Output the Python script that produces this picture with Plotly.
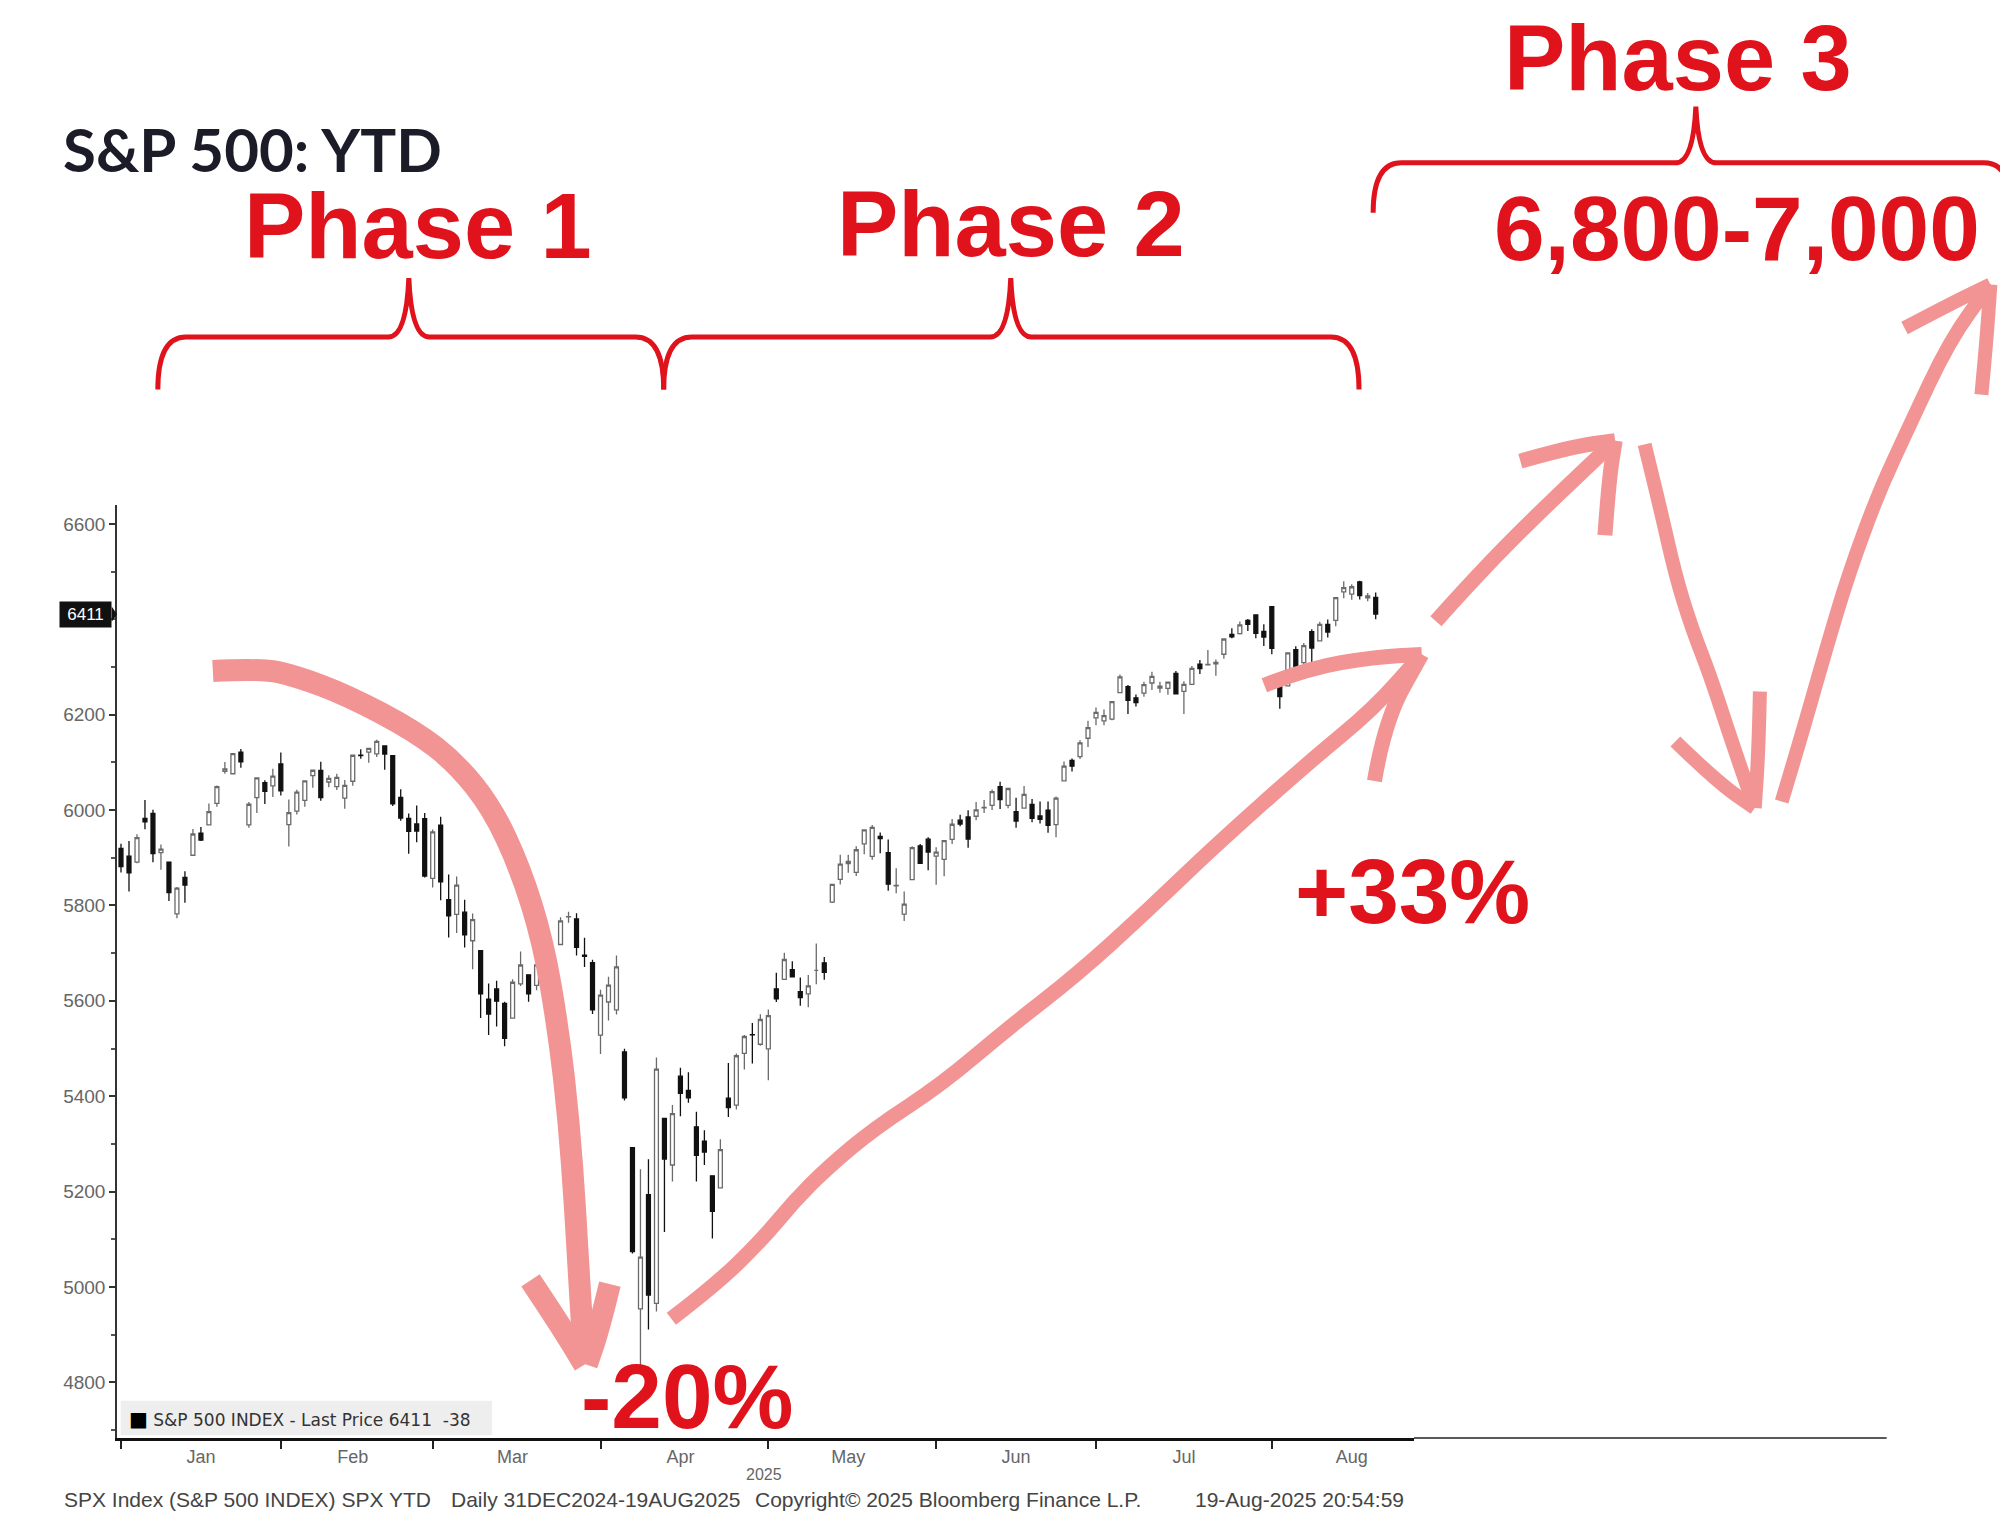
import plotly.graph_objects as go

# S&P 500 daily candles, 31 Dec 2024 - 19 Aug 2025
dates = ["2024-12-31",
         "2025-01-02", "2025-01-03", "2025-01-06", "2025-01-07", "2025-01-08", "2025-01-10", "2025-01-13",
         "2025-01-14", "2025-01-15", "2025-01-16", "2025-01-17", "2025-01-21", "2025-01-22", "2025-01-23",
         "2025-01-24", "2025-01-27", "2025-01-28", "2025-01-29", "2025-01-30", "2025-01-31",
         "2025-02-03", "2025-02-04", "2025-02-05", "2025-02-06", "2025-02-07", "2025-02-10", "2025-02-11",
         "2025-02-12", "2025-02-13", "2025-02-14", "2025-02-18", "2025-02-19", "2025-02-20", "2025-02-21",
         "2025-02-24", "2025-02-25", "2025-02-26", "2025-02-27", "2025-02-28",
         "2025-03-03", "2025-03-04", "2025-03-05", "2025-03-06", "2025-03-07", "2025-03-10", "2025-03-11",
         "2025-03-12", "2025-03-13", "2025-03-14", "2025-03-17", "2025-03-18", "2025-03-19", "2025-03-20",
         "2025-03-21", "2025-03-24", "2025-03-25", "2025-03-26", "2025-03-27", "2025-03-28", "2025-03-31",
         "2025-04-01", "2025-04-02", "2025-04-03", "2025-04-04", "2025-04-07", "2025-04-08", "2025-04-09",
         "2025-04-10", "2025-04-11", "2025-04-14", "2025-04-15", "2025-04-16", "2025-04-17", "2025-04-21",
         "2025-04-22", "2025-04-23", "2025-04-24", "2025-04-25", "2025-04-28", "2025-04-29", "2025-04-30",
         "2025-05-01", "2025-05-02", "2025-05-05", "2025-05-06", "2025-05-07", "2025-05-08", "2025-05-09",
         "2025-05-12", "2025-05-13", "2025-05-14", "2025-05-15", "2025-05-16", "2025-05-19", "2025-05-20",
         "2025-05-21", "2025-05-22", "2025-05-23", "2025-05-27", "2025-05-28", "2025-05-29", "2025-05-30",
         "2025-06-02", "2025-06-03", "2025-06-04", "2025-06-05", "2025-06-06", "2025-06-09", "2025-06-10",
         "2025-06-11", "2025-06-12", "2025-06-13", "2025-06-16", "2025-06-17", "2025-06-18", "2025-06-20",
         "2025-06-23", "2025-06-24", "2025-06-25", "2025-06-26", "2025-06-27", "2025-06-30",
         "2025-07-01", "2025-07-02", "2025-07-03", "2025-07-07", "2025-07-08", "2025-07-09", "2025-07-10",
         "2025-07-11", "2025-07-14", "2025-07-15", "2025-07-16", "2025-07-17", "2025-07-18", "2025-07-21",
         "2025-07-22", "2025-07-23", "2025-07-24", "2025-07-25", "2025-07-28", "2025-07-29", "2025-07-30",
         "2025-07-31",
         "2025-08-01", "2025-08-04", "2025-08-05", "2025-08-06", "2025-08-07", "2025-08-08", "2025-08-11",
         "2025-08-12", "2025-08-13", "2025-08-14", "2025-08-15", "2025-08-18", "2025-08-19"]

opens = [5919.7,
         5903.3, 5891.1, 5982.8, 5993.3, 5910.7, 5890.7, 5782.2, 5859.0, 5905.3, 5951.5, 5969.1, 6014.1, 6081.4, 6076.3,
         6121.4, 5969.0, 6026.0, 6057.7, 6050.8, 6096.8,
         5969.7, 5998.1, 6020.5, 6072.2, 6083.1, 6059.0, 6049.3, 6025.1, 6060.6, 6115.5, 6121.6, 6117.8, 6134.5, 6114.1,
         6026.7, 5982.7, 5970.9, 5981.9, 5856.7,
         5968.3, 5812.0, 5781.4, 5785.9, 5726.0, 5705.4, 5603.7, 5624.8, 5594.5, 5563.9, 5635.6, 5654.5, 5632.4, 5646.9,
         5630.7, 5718.1, 5775.9, 5771.7, 5695.6, 5679.9, 5527.9,
         5597.5, 5580.8, 5492.7, 5292.1, 4953.8, 5193.6, 4965.3, 5353.2, 5255.6, 5442.0, 5412.0, 5335.8, 5305.4, 5232.9,
         5207.7, 5395.9, 5381.4, 5489.7, 5529.2, 5508.9, 5499.4,
         5625.1, 5645.0, 5665.2, 5619.0, 5614.4, 5663.9, 5679.7, 5807.1, 5854.6, 5887.6, 5869.5, 5929.1, 5902.9, 5944.7,
         5910.9, 5841.3, 5781.9, 5854.1, 5925.0, 5939.1, 5903.7,
         5896.7, 5938.6, 5978.9, 5985.7, 5987.1, 6004.6, 6009.9, 6049.4, 6009.9, 5996.7, 6004.0, 6012.2, 5987.9, 5999.7,
         5969.7, 6061.2, 6104.2, 6112.1, 6150.7, 6193.4,
         6187.3, 6191.0, 6246.5, 6259.2, 6235.5, 6245.3, 6266.6, 6255.7, 6255.2, 6287.0, 6248.9, 6263.6, 6306.4, 6304.7,
         6306.6, 6326.9, 6368.6, 6370.0, 6397.7, 6409.3, 6374.9, 6427.0,
         6271.7, 6260.8, 6336.6, 6309.3, 6374.5, 6355.0, 6389.7, 6397.9, 6457.7, 6453.0, 6478.9, 6445.0, 6446.3]

highs = [5929.7,
         5935.1, 5949.3, 6021.0, 6000.7, 5927.9, 5890.7, 5838.6, 5871.9, 5960.6, 5964.7, 6014.0, 6051.5, 6100.8, 6118.7,
         6128.2, 6017.2, 6069.1, 6062.8, 6086.6, 6120.9,
         6022.1, 6042.5, 6062.9, 6084.0, 6101.3, 6073.4, 6076.3, 6063.0, 6116.9, 6127.5, 6129.6, 6147.4, 6134.5, 6114.8,
         6043.7, 5992.7, 6009.8, 5993.7, 5959.4,
         5986.1, 5865.1, 5860.6, 5812.1, 5783.0, 5705.4, 5636.3, 5642.2, 5597.8, 5645.3, 5703.5, 5654.5, 5715.3, 5711.2,
         5670.8, 5775.1, 5787.0, 5783.6, 5732.3, 5685.9, 5623.0,
         5650.6, 5695.3, 5499.5, 5292.1, 5246.6, 5267.5, 5481.3, 5353.2, 5381.5, 5459.5, 5450.4, 5367.2, 5328.3, 5232.9,
         5309.6, 5469.7, 5489.4, 5528.1, 5553.7, 5572.0, 5581.8,
         5658.9, 5700.7, 5683.2, 5649.0, 5654.4, 5720.1, 5691.7, 5845.0, 5906.6, 5906.6, 5924.2, 5958.6, 5968.6, 5953.1,
         5938.4, 5878.1, 5829.5, 5924.3, 5929.1, 5943.1, 5922.1,
         5937.4, 5981.4, 5990.5, 5999.7, 6016.9, 6021.3, 6043.0, 6059.4, 6045.4, 6026.2, 6050.8, 6023.3, 6018.2, 6018.2,
         6028.8, 6101.8, 6108.5, 6146.5, 6187.7, 6215.1,
         6210.8, 6227.6, 6284.7, 6262.6, 6242.7, 6269.0, 6290.2, 6269.3, 6269.4, 6291.7, 6270.1, 6302.3, 6315.1, 6336.1,
         6316.1, 6360.6, 6381.3, 6395.8, 6401.1, 6409.3, 6389.8, 6427.0,
         6288.1, 6330.0, 6343.7, 6350.5, 6379.5, 6395.2, 6400.0, 6446.2, 6480.3, 6473.8, 6481.3, 6455.4, 6456.7]

lows = [5868.9,
        5829.5, 5888.7, 5960.0, 5890.7, 5874.8, 5809.5, 5773.3, 5805.5, 5905.3, 5935.4, 5969.1, 6006.9, 6076.1, 6074.7,
        6088.7, 5962.9, 5994.1, 6012.9, 6027.5, 6030.9,
        5923.9, 5990.9, 6007.1, 6046.8, 6019.9, 6048.0, 6042.3, 6003.0, 6051.0, 6107.6, 6099.5, 6111.2, 6084.6, 6008.6,
        5977.8, 5908.5, 5932.7, 5858.8, 5837.7,
        5810.9, 5732.6, 5742.4, 5711.6, 5666.3, 5564.0, 5528.4, 5546.1, 5504.6, 5563.9, 5631.1, 5597.8, 5622.2, 5632.4,
        5603.1, 5718.1, 5764.0, 5695.0, 5670.9, 5572.4, 5488.7,
        5558.5, 5571.5, 5390.8, 5069.9, 4835.0, 4910.4, 4948.4, 5115.3, 5220.8, 5358.0, 5386.4, 5220.8, 5255.6, 5101.6,
        5207.7, 5356.2, 5372.0, 5455.9, 5468.6, 5505.7, 5433.2,
        5597.4, 5644.7, 5649.6, 5589.9, 5586.4, 5635.0, 5644.4, 5805.3, 5844.2, 5868.7, 5861.9, 5907.4, 5895.7, 5909.3,
        5830.9, 5825.8, 5767.4, 5854.1, 5886.8, 5873.8, 5843.7,
        5861.4, 5929.0, 5966.1, 5921.2, 5978.6, 5994.2, 6000.3, 6002.3, 6003.9, 5963.2, 6004.0, 5974.8, 5971.9, 5952.6,
        5943.2, 6060.1, 6080.9, 6107.4, 6132.4, 6178.0,
        6178.0, 6188.3, 6246.5, 6201.7, 6217.2, 6237.6, 6251.8, 6246.4, 6242.0, 6243.2, 6201.6, 6263.6, 6285.3, 6303.8,
        6281.7, 6317.5, 6360.6, 6368.5, 6375.9, 6360.4, 6344.3, 6327.0,
        6212.7, 6260.8, 6282.0, 6301.9, 6300.6, 6355.0, 6362.0, 6385.8, 6444.4, 6441.1, 6441.7, 6437.9, 6400.2]

closes = [5881.6,
          5868.6, 5942.5, 5975.4, 5909.0, 5918.3, 5827.0, 5836.2, 5842.9, 5949.9, 5937.3, 5996.7, 6049.2, 6086.4, 6118.7,
          6101.2, 6012.3, 6067.7, 6039.3, 6071.2, 6040.5,
          5994.6, 6037.9, 6061.5, 6083.6, 6026.0, 6066.4, 6068.5, 6052.0, 6115.1, 6114.6, 6129.6, 6144.2, 6117.5, 6013.1,
          5983.3, 5955.3, 5956.1, 5861.6, 5954.5,
          5849.7, 5778.2, 5842.6, 5738.5, 5770.2, 5614.6, 5572.1, 5599.3, 5521.5, 5638.9, 5675.1, 5614.7, 5675.3, 5662.9,
          5667.6, 5767.6, 5776.7, 5712.2, 5693.3, 5580.9, 5611.9,
          5633.1, 5671.0, 5396.5, 5074.1, 5062.3, 4982.8, 5456.9, 5268.1, 5363.4, 5406.0, 5396.6, 5275.7, 5282.7, 5158.2,
          5287.8, 5375.9, 5484.8, 5525.2, 5528.8, 5560.8, 5569.1,
          5604.1, 5686.7, 5650.4, 5606.9, 5631.3, 5663.9, 5659.9, 5844.2, 5886.6, 5892.6, 5916.9, 5958.4, 5963.6, 5940.5,
          5844.6, 5842.0, 5802.8, 5921.5, 5888.6, 5912.2, 5911.7,
          5935.9, 5970.4, 5970.8, 5939.3, 6000.4, 6005.9, 6038.8, 6022.2, 6045.3, 5977.0, 6033.1, 5982.7, 5980.9, 5967.8,
          6025.2, 6092.2, 6092.2, 6141.0, 6173.1, 6205.0,
          6198.0, 6227.4, 6279.4, 6230.0, 6225.5, 6263.3, 6280.5, 6259.8, 6268.6, 6243.8, 6263.7, 6297.4, 6296.8, 6305.6,
          6309.6, 6358.9, 6363.4, 6388.6, 6389.8, 6370.9, 6362.9, 6339.4,
          6238.0, 6329.9, 6299.2, 6345.1, 6340.0, 6389.5, 6373.5, 6445.8, 6466.6, 6468.5, 6449.8, 6449.2, 6411.4]

holidays = ["2025-01-01", "2025-01-09", "2025-01-20", "2025-02-17", "2025-04-18",
            "2025-05-26", "2025-06-19", "2025-07-04"]

month_names = ["Jan", "Feb", "Mar", "Apr", "May", "Jun", "Jul", "Aug"]
month_label_days = ["2025-01-16", "2025-02-13", "2025-03-14", "2025-04-14", "2025-05-14",
                    "2025-06-13", "2025-07-16", "2025-08-14"]
month_end_days = ["2024-12-31", "2025-01-31", "2025-02-28", "2025-03-31", "2025-04-30",
                  "2025-05-30", "2025-06-30", "2025-07-31"]
y_ticks = [4800, 5000, 5200, 5400, 5600, 5800, 6000, 6200, 6600]

last_price = 6411
last_change = -38

W, H = 2008, 1536
ML, MR, MT, MB = 109, 602, 497, 106
SX, SY = W / 1568, H / 1200   # positions below measured on a 1568x1200 view

RED = "#E0121B"
PINK = "#F29494"
ARIAL = "Liberation Sans, Arial, sans-serif"
WIDE = "DejaVu Sans, Verdana, sans-serif"


def pp(xd, yd):
    X, Y = xd * SX, yd * SY
    return (X - ML) / (W - ML - MR), (H - MB - Y) / (H - MT - MB)


def smooth(pts):
    p = [pp(*q) for q in pts]
    s = "M %.4f,%.4f" % p[0]
    for i in range(1, len(p) - 1):
        mx = (p[i][0] + p[i + 1][0]) / 2
        my = (p[i][1] + p[i + 1][1]) / 2
        s += " Q %.4f,%.4f %.4f,%.4f" % (p[i][0], p[i][1], mx, my)
    s += " L %.4f,%.4f" % p[-1]
    return s


def brace(x0, x1, xm, ytop, yend, ypeak):
    pts = [(x0, yend), (x0, ytop), (x0 + 22, ytop), (xm - 16, ytop), (xm - 2, ytop), (xm, ypeak),
           (xm + 2, ytop), (xm + 16, ytop), (x1 - 22, ytop), (x1, ytop), (x1, yend)]
    p = [pp(*q) for q in pts]
    f = lambda q: "%.4f,%.4f" % q
    return ("M " + f(p[0]) + " Q " + f(p[1]) + " " + f(p[2]) + " L " + f(p[3]) +
            " Q " + f(p[4]) + " " + f(p[5]) + " Q " + f(p[6]) + " " + f(p[7]) +
            " L " + f(p[8]) + " Q " + f(p[9]) + " " + f(p[10]))


noon = lambda ds: [d + " 12:00" for d in ds]

fig = go.Figure()
fig.add_trace(go.Candlestick(
    x=noon(dates), open=opens, high=highs, low=lows, close=closes,
    increasing=dict(line=dict(color="#6a6a6a", width=1.3), fillcolor="#ffffff"),
    decreasing=dict(line=dict(color="#111111", width=1.3), fillcolor="#111111"),
    whiskerwidth=0, showlegend=False, hoverinfo="skip"))

shapes = []
# braces
for x0, x1, xm, ytop, yend, ypk in [(117, 512, 313, 257, 298, 211), (512, 1055, 783, 257, 298, 211),
                                    (1066, 1565, 1318, 121, 160, 77)]:
    shapes.append(dict(type="path", xref="paper", yref="paper", path=brace(x0, x1, xm, ytop, yend, ypk),
                       line=dict(color=RED, width=5), layer="above"))

# hand-drawn arrows
strokes = [
    (22, [(160, 518), (198, 516), (225, 522), (265, 537), (318, 565), (350, 590), (378, 625), (400, 672),
          (418, 730), (430, 800), (438, 870), (443, 940), (447, 1010), (450, 1058)]),
    (22, [(408, 994), (432, 1030), (450, 1060)]),
    (22, [(470, 997), (462, 1030), (452, 1060)]),
    (15, [(518, 1024), (552, 998), (588, 963), (614, 932), (640, 906), (677, 875), (729, 841), (781, 797),
          (835, 755), (890, 705), (942, 655), (1015, 590), (1067, 547), (1104, 505)]),
    (15, [(981, 529), (1015, 516), (1067, 507), (1104, 505)]),
    (15, [(1067, 604), (1075, 557), (1104, 505)]),
    (15, [(1115, 479), (1150, 440), (1200, 390), (1255, 338)]),
    (15, [(1181, 354), (1220, 343), (1255, 338)]),
    (15, [(1247, 412), (1250, 370), (1255, 338)]),
    (14, [(1278, 341), (1290, 390), (1302, 443), (1315, 485), (1329, 521), (1345, 570), (1364, 625)]),
    (14, [(1302, 573), (1335, 605), (1364, 625)]),
    (14, [(1368, 534), (1367, 580), (1364, 625)]),
    (14, [(1385, 620), (1400, 570), (1420, 500), (1437, 443), (1460, 380), (1484, 328), (1516, 260),
          (1548, 216)]),
    (14, [(1481, 250), (1515, 232), (1548, 216)]),
    (14, [(1541, 302), (1545, 260), (1548, 216)]),
]
for w, pts in strokes:
    shapes.append(dict(type="path", xref="paper", yref="paper", path=smooth(pts),
                       line=dict(color=PINK, width=w), layer="above"))

# legend strip and extended axis line
lx0, ly0 = pp(88, 1088)
lx1, ly1 = pp(378, 1115)
shapes.append(dict(type="rect", xref="paper", yref="paper", x0=lx0, y0=ly0, x1=lx1, y1=ly1,
                   fillcolor="#eeeeee", line=dict(width=0), layer="below"))
shapes.append(dict(type="line", xref="paper", yref="paper", x0=1, x1=pp(1467, 0)[0], y0=0, y1=0,
                   line=dict(color="#222222", width=1.6)))
# pointer of the last-price tag
tx, _ = pp(81, 0)
shapes.append(dict(type="path", xref="paper", yref="y",
                   path="M %.4f,%.1f L %.4f,%.1f L %.4f,%.1f Z" % (tx, last_price + 16, 0, last_price, tx, last_price - 16),
                   fillcolor="#111111", line=dict(width=0)))

ann = []


def text(xd, yd, s, size, color, family=ARIAL, xanchor="center", yanchor="middle", weight="normal"):
    x, y = pp(xd, yd)
    ann.append(dict(xref="paper", yref="paper", x=x, y=y, text=s, showarrow=False,
                    xanchor=xanchor, yanchor=yanchor,
                    font=dict(size=size, color=color, family=family, weight=weight)))


text(41, 110, "S&P 500: YTD", 60, "#1c1c28", "Lato, Open Sans, sans-serif", xanchor="left", weight="bold")
text(320, 170, "Phase 1", 92, RED, weight="bold")
text(783, 169, "Phase 2", 92, RED, weight="bold")
text(1304, -2, "Phase 3", 92, RED, yanchor="top", weight="bold")
text(1350, 172, "6,800-7,000", 91, RED, weight="bold")
text(1097, 690, "+33%", 91, RED, weight="bold")
text(530, 1085, "-20%", 91, RED, weight="bold")

text(93, 1102, "<span style='color:#000;font-size:20px'>■</span> S&P 500 INDEX - Last Price %d  %d"
     % (last_price, last_change), 17, "#333333", WIDE, xanchor="left")
text(590, 1146, "2025", 16, "#666666")
text(42, 1165, "SPX Index (S&P 500 INDEX) SPX YTD", 21, "#444444", xanchor="left")
text(344, 1165, "Daily 31DEC2024-19AUG2025", 21, "#444444", xanchor="left")
text(582, 1165, "Copyright© 2025 Bloomberg Finance L.P.", 21, "#444444", xanchor="left")
text(925, 1165, "19-Aug-2025 20:54:59", 21, "#444444", xanchor="left")

ann.append(dict(xref="paper", yref="y", x=tx, y=last_price, text="\u2005%d\u2005" % last_price, showarrow=False,
                xanchor="right", yanchor="middle", bgcolor="#111111", borderpad=3,
                font=dict(size=17, color="#ffffff", family=ARIAL)))

fig.update_layout(
    width=W, height=H, margin=dict(l=ML, r=MR, t=MT, b=MB),
    paper_bgcolor="white", plot_bgcolor="white",
    shapes=shapes, annotations=ann,
    xaxis=dict(type="date", range=["2024-12-31 00:00", "2025-08-26 07:00"],
               rangebreaks=[dict(bounds=["sat", "mon"]), dict(values=holidays)],
               rangeslider=dict(visible=False),
               tickmode="array", tickvals=noon(month_label_days), ticktext=month_names, ticks="",
               minor=dict(tickmode="array", tickvals=noon(month_end_days), ticks="outside",
                          ticklen=8, tickwidth=1.5, tickcolor="#222222", showgrid=False),
               showline=True, linecolor="#111111", linewidth=3, showgrid=False, zeroline=False,
               tickfont=dict(size=18, color="#666666", family=ARIAL)),
    yaxis=dict(range=[4683, 6640], tickmode="array", tickvals=y_ticks,
               ticks="outside", ticklen=6, tickwidth=1.5, tickcolor="#333333",
               minor=dict(dtick=100, tick0=0, ticks="outside", ticklen=4, tickcolor="#555555"),
               showline=True, linecolor="#333333", linewidth=1.5, showgrid=False, zeroline=False,
               tickfont=dict(size=19, color="#666666", family=ARIAL)),
)

fig.write_html("out.html")
